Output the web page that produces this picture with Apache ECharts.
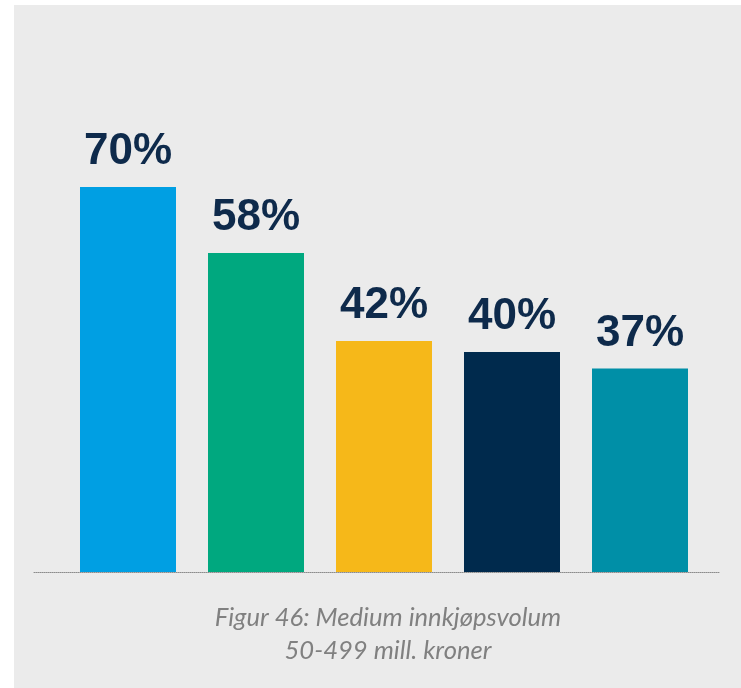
<!DOCTYPE html>
<html>
<head>
<meta charset="utf-8">
<script src="https://cdn.jsdelivr.net/npm/echarts@6/dist/echarts.min.js"></script>
<style>
  html, body { margin: 0; padding: 0; background: #ffffff; width: 741px; height: 688px; overflow: hidden; }
  #c { position: absolute; left: 14px; top: 5px; width: 727px; height: 683px; background: #ebebeb; }
</style>
</head>
<body>
<div id="c"></div>
<script>
const categories = ['A', 'B', 'C', 'D', 'E'];
const values = [70, 58, 42, 40, 37];
const barColors = ['#009fe3', '#00a87f', '#f6b819', '#002a4d', '#008fa7'];
const captionLines = ['Figur 46: Medium innkjøpsvolum', '50-499 mill. kroner'];

const captionFont = 'italic 25.6px Lato, "Open Sans", sans-serif';

const chart = echarts.init(document.getElementById('c'), null, { renderer: 'canvas' });
chart.setOption({
  animation: false,
  backgroundColor: '#ebebeb',
  grid: [
    { left: 50, right: 37, top: 17, bottom: 116 },
    { left: 20, right: 22, top: 17, bottom: 116 }
  ],
  xAxis: [
    {
      type: 'category', data: categories, gridIndex: 0,
      axisLine: { show: false }, axisTick: { show: false }, axisLabel: { show: false }
    },
    {
      type: 'category', data: [''], gridIndex: 1,
      axisLine: { show: true, lineStyle: { color: '#8c8c8c', width: 1, type: [1, 1] } },
      axisTick: { show: false }, axisLabel: { show: false }
    }
  ],
  yAxis: [
    { type: 'value', min: 0, max: 100, gridIndex: 0, show: false },
    { type: 'value', min: 0, max: 100, gridIndex: 1, show: false }
  ],
  series: [
    {
      type: 'bar',
      xAxisIndex: 0, yAxisIndex: 0,
      barWidth: 96,
      z: 3,
      data: values.map((v, i) => ({ value: v, itemStyle: { color: barColors[i] } })),
      label: {
        show: true,
        position: 'top',
        distance: 13,
        formatter: '{c}%',
        color: '#0e2a4b',
        fontFamily: '"Liberation Sans", Arial, sans-serif',
        fontWeight: 'bold',
        fontSize: 44
      }
    }
  ],
  graphic: captionLines.map((t, i) => ({
    type: 'text',
    x: 374, y: 613 + i * 33,
    style: {
      text: t,
      fill: '#808080',
      font: captionFont,
      align: 'center',
      verticalAlign: 'middle'
    }
  }))
});
</script>
</body>
</html>
